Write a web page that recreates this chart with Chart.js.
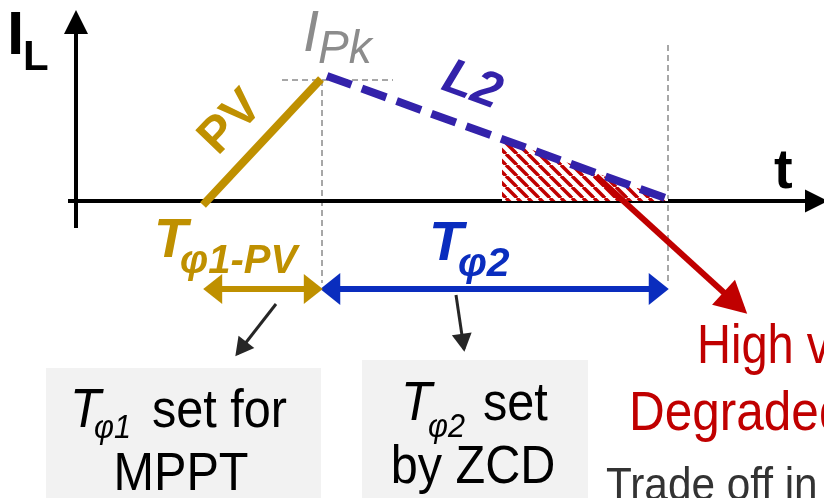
<!DOCTYPE html>
<html lang="en">
<head>
<meta charset="UTF-8">
<title>Inductor current phases</title>
<script src="https://cdn.jsdelivr.net/npm/chart.js"></script>
<style>
  html, body { margin: 0; padding: 0; background: #fff; }
  #wrap { width: 824px; height: 498px; }
</style>
</head>
<body>
<div id="wrap"><canvas id="chart" width="824" height="498"></canvas></div>
<script>
// t in units of 100 px from the I axis, I_L in units of 100 px above the t axis
const tAxisT = [-0.08, 7.48];
const tAxisI = [0, 0];
const iAxisT = [0, 0];
const iAxisI = [-0.27, 1.87];

// PV charging ramp and L2 discharge ramp
const pvT = [1.27, 2.45];
const pvI = [-0.04, 1.22];
const l2T = [2.51, 5.92];
const l2I = [1.25, 0.02];

// hatched region under the end of the L2 ramp
const hatchT = [4.26, 5.92];
const hatchI = [0.62, 0.02];

// dashed guides (peak level, phase boundaries)
const peakT = [2.06, 3.17];
const peakI = [1.21, 1.21];
const edge1T = [2.46, 2.46];
const edge1I = [1.21, -0.82];
const edge2T = [5.92, 5.92];
const edge2I = [1.56, -0.82];

// phase span arrows
const ph1T = [1.31, 2.43];
const ph1I = [-0.88, -0.88];
const ph2T = [2.48, 5.89];
const ph2I = [-0.88, -0.88];

// pointer arrows
const lossT = [5.20, 6.67];
const lossI = [0.25, -1.09];
const note1T = [2.00, 1.61];
const note1I = [-1.03, -1.53];
const note2T = [3.80, 3.88];
const note2I = [-0.94, -1.48];

const pts = (xs, ys) => xs.map((x, i) => ({ x: x, y: ys[i] }));

const FONT = '"Liberation Sans", Arial, sans-serif';
const GOLD = '#bf9000';
const BLUE = '#0a2dbe';
const PURPLE = '#3322aa';
const RED = '#c00000';
const GUIDE = '#8a8a8a';

// red hatch pattern
function hatchPattern() {
  const s = 11;
  const c = document.createElement('canvas');
  c.width = s; c.height = s;
  const g = c.getContext('2d');
  g.fillStyle = '#ffffff';
  g.fillRect(0, 0, s, s);
  g.strokeStyle = RED;
  g.lineWidth = 3.5;
  for (const x0 of [-s, 0, s]) {
    g.beginPath();
    g.moveTo(x0, 0);
    g.lineTo(x0 + s, s);
    g.stroke();
  }
  return g.createPattern(c, 'repeat');
}

function line(data, color, width, order, extra) {
  return Object.assign({
    data: data,
    showLine: true,
    borderColor: color,
    backgroundColor: color,
    borderWidth: width,
    pointRadius: 0,
    fill: false,
    tension: 0,
    borderCapStyle: 'butt',
    order: order
  }, extra || {});
}

// arrow heads at dataset ends
const arrowHeads = {
  id: 'arrowHeads',
  afterDatasetDraw(chart, args) {
    const ds = chart.data.datasets[args.index];
    if (!ds.arrow) return;
    const p = args.meta.data;
    const ctx = chart.ctx;
    const a = ds.arrow;
    const head = (from, to) => {
      const dx = to.x - from.x, dy = to.y - from.y;
      const d = Math.hypot(dx, dy), ux = dx / d, uy = dy / d;
      const ext = ds.borderWidth / 2 * a.len / a.half;
      const tx = to.x + ux * ext, ty = to.y + uy * ext;
      const bx = tx - ux * a.len, by = ty - uy * a.len;
      ctx.beginPath();
      ctx.moveTo(tx, ty);
      ctx.lineTo(bx - uy * a.half, by + ux * a.half);
      ctx.lineTo(bx + uy * a.half, by - ux * a.half);
      ctx.closePath();
      ctx.fillStyle = ds.borderColor;
      ctx.fill();
    };
    ctx.save();
    if (a.end) head(p[p.length - 2], p[p.length - 1]);
    if (a.start) head(p[1], p[0]);
    ctx.restore();
  }
};

function txt(ctx, s, x, y, size, style, color, o) {
  o = o || {};
  ctx.save();
  ctx.translate(x, y);
  if (o.rot) ctx.rotate(o.rot * Math.PI / 180);
  if (o.sx) ctx.scale(o.sx, 1);
  ctx.font = style + ' ' + size + 'px ' + FONT;
  ctx.fillStyle = color;
  ctx.textAlign = o.align || 'left';
  ctx.textBaseline = o.base || 'alphabetic';
  ctx.fillText(s, 0, 0);
  ctx.restore();
}

const labels = {
  id: 'labels',
  beforeDatasetsDraw(chart) {
    const ctx = chart.ctx;
    ctx.save();
    ctx.fillStyle = '#f2f2f2';
    ctx.fillRect(46, 368, 275, 130);
    ctx.fillRect(362, 360, 226, 138);
    ctx.restore();
  },
  afterDatasetsDraw(chart) {
    const ctx = chart.ctx;
    // axis names
    txt(ctx, 'I', 7, 54, 62, 'bold', '#000');
    txt(ctx, 'L', 23, 70, 42, 'bold', '#000');
    txt(ctx, 't', 774, 188, 56, 'bold', '#000');
    // peak
    txt(ctx, 'I', 303, 51, 58, 'italic', '#8c8c8c');
    txt(ctx, 'Pk', 318, 63, 46, 'italic', '#8c8c8c');
    // ramps
    txt(ctx, 'PV', 231, 123, 50, 'bold', GOLD, { rot: -46, align: 'center', base: 'middle' });
    txt(ctx, 'L2', 472, 86, 50, 'bold italic', PURPLE, { rot: 20, align: 'center', base: 'middle' });
    // phase labels
    txt(ctx, 'T', 154, 257, 55, 'bold italic', GOLD);
    txt(ctx, 'φ1-PV', 180, 273, 40, 'bold italic', GOLD);
    txt(ctx, 'T', 429, 260, 56, 'bold italic', BLUE);
    txt(ctx, 'φ2', 458, 276, 41, 'bold italic', BLUE);
    // boxes
    txt(ctx, 'T', 70, 427, 56, 'italic', '#000', { sx: 0.9 });
    txt(ctx, 'φ1', 94, 438, 34, 'italic', '#000', { sx: 0.9 });
    txt(ctx, 'set for', 152, 427, 54, 'normal', '#000', { sx: 0.9 });
    txt(ctx, 'MPPT', 181, 490, 54, 'normal', '#000', { sx: 0.9, align: 'center' });
    txt(ctx, 'T', 401, 420, 56, 'italic', '#000', { sx: 0.9 });
    txt(ctx, 'φ2', 428, 437, 34, 'italic', '#000', { sx: 0.9 });
    txt(ctx, 'set', 483, 420, 54, 'normal', '#000', { sx: 0.9 });
    txt(ctx, 'by ZCD', 473, 483, 54, 'normal', '#000', { sx: 0.9, align: 'center' });
    // right notes
    txt(ctx, 'High v', 697, 363, 56, 'normal', RED, { sx: 0.84 });
    txt(ctx, 'Degraded', 629, 430, 55, 'normal', RED, { sx: 0.9 });
    txt(ctx, 'Trade off in', 606, 500, 47, 'normal', '#333333', { sx: 0.9 });
  }
};

const datasets = [
  line(pts(note1T, note1I), '#262626', 3, 1, { arrow: { end: true, len: 18, half: 10 } }),
  line(pts(note2T, note2I), '#262626', 3, 1, { arrow: { end: true, len: 18, half: 10 } }),
  line(pts(ph1T, ph1I), GOLD, 6, 2, { arrow: { start: true, end: true, len: 19, half: 15 } }),
  line(pts(ph2T, ph2I), BLUE, 6, 2, { arrow: { start: true, end: true, len: 20, half: 16 } }),
  line(pts(lossT, lossI), RED, 6, 3, { arrow: { end: true, len: 32, half: 17 } }),
  line(pts(l2T, l2I), PURPLE, 8, 4, { borderDash: [26, 11] }),
  line(pts(pvT, pvI), GOLD, 8, 5),
  line(pts(hatchT, hatchI), RED, 0, 6, { fill: 'origin', backgroundColor: hatchPattern() }),
  line(pts(tAxisT, tAxisI), '#000', 4, 7, { arrow: { end: true, len: 23, half: 11.5 } }),
  line(pts(iAxisT, iAxisI), '#000', 4, 7, { arrow: { end: true, len: 24, half: 12 } }),
  line(pts(peakT, peakI), GUIDE, 1.5, 8, { borderDash: [6, 4] }),
  line(pts(edge1T, edge1I), GUIDE, 1.5, 8, { borderDash: [6, 4] }),
  line(pts(edge2T, edge2I), GUIDE, 1.5, 8, { borderDash: [6, 4] })
];

new Chart(document.getElementById('chart'), {
  type: 'scatter',
  data: { datasets: datasets },
  options: {
    responsive: false,
    animation: false,
    devicePixelRatio: 1,
    layout: { padding: 0 },
    plugins: { legend: { display: false }, tooltip: { enabled: false } },
    events: [],
    scales: {
      x: { type: 'linear', min: -0.76, max: 7.48, display: false },
      y: { type: 'linear', min: -2.97, max: 2.01, display: false }
    }
  },
  plugins: [arrowHeads, labels]
});
</script>
</body>
</html>
